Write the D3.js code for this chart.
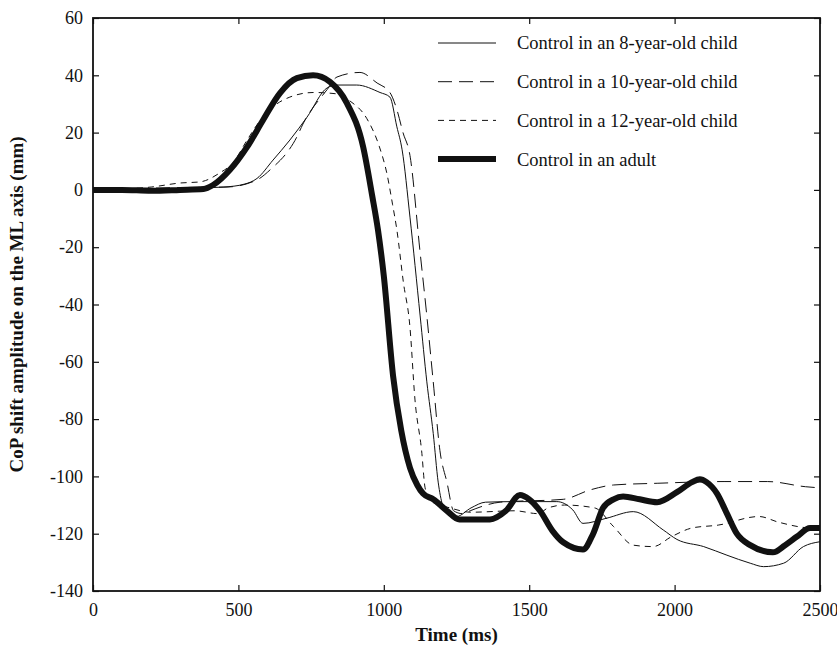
<!DOCTYPE html>
<html>
<head>
<meta charset="utf-8">
<script src="https://cdn.jsdelivr.net/npm/d3@7"></script>
<style>
  body { margin: 0; background: #fff; }
  svg text { font-family: "Liberation Serif", "Times New Roman", serif; fill: #111; }
</style>
</head>
<body>
<div id="chart"></div>
<script>
/* CONSTANTS */
const width = 837,
  height = 649,
  margin = { top: 18, right: 17, bottom: 58, left: 93 };

/* DATA */
const xTicks = [0, 500, 1000, 1500, 2000, 2500];
const yTicks = [60, 40, 20, 0, -20, -40, -60, -80, -100, -120, -140];

const seriesNames = [
  "Control in an 8-year-old child",
  "Control in a 10-year-old child",
  "Control in a 12-year-old child",
  "Control in an adult"
];

// 8-year-old child (thin solid)
const child8 = [
  [0, 0], [150, 0.3], [300, 0.5], [450, 1], [520, 2], [564, 4], [619, 10.4], [677, 17.4],
  [736, 25.4], [805, 35.6], [839, 36.6], [907, 36.6], [987, 34], [1021, 32.4], [1045, 22],
  [1063, 14], [1090, -9.5], [1125, -44], [1148, -67], [1170, -85], [1187, -102],
  [1217, -113], [1250, -114], [1300, -111], [1350, -109], [1450, -108.8], [1595, -108.8],
  [1650, -111.7], [1685, -116.4], [1766, -114.6], [1858, -112.3], [1961, -118.7],
  [2008, -122], [2100, -124.5], [2180, -127.5], [2260, -130.3], [2306, -131.5],
  [2375, -130.3], [2443, -124.5], [2500, -122.8]
];

// 10-year-old child (long dash)
const child10 = [
  [0, 0], [150, 0.5], [300, 0.8], [461, 1], [564, 3.5], [609, 7], [701, 18.5], [722, 23],
  [805, 35], [839, 39.4], [918, 41], [977, 37.3], [1021, 34], [1045, 28], [1066, 20],
  [1090, 12], [1124, -21], [1148, -44], [1170, -67], [1193, -91], [1217, -102],
  [1240, -112], [1270, -113], [1297, -112], [1331, -110.7], [1400, -109], [1617, -108],
  [1710, -104.7], [1790, -103], [1940, -102.4], [2170, -101.8], [2320, -101.8],
  [2450, -103.6], [2500, -104]
];

// 12-year-old child (short dash)
const child12 = [
  [0, 0], [200, 1], [299, 2.4], [368, 2.8], [437, 6], [481, 9.4], [530, 17.4], [573, 24],
  [619, 29], [677, 32.4], [758, 34], [840, 33.5], [884, 31], [941, 25], [985, 15],
  [1010, 6], [1030, -5], [1045, -14], [1067, -32], [1090, -48], [1107, -73], [1130, -91],
  [1142, -104], [1160, -108.5], [1228, -111], [1300, -112.5], [1450, -112], [1530, -113],
  [1565, -111], [1622, -110], [1725, -111], [1790, -117.5], [1858, -124], [1926, -124.5],
  [1990, -121], [2060, -118], [2150, -117], [2290, -114], [2358, -116], [2472, -118],
  [2500, -118]
];

// adult (thick solid)
const adult = [
  [0, 0], [100, 0], [200, -0.3], [299, 0], [380, 0.3], [413, 1.7], [471, 7], [530, 15],
  [585, 24.4], [643, 33.8], [701, 39], [757, 40], [815, 37.7], [873, 30.3], [929, 15],
  [960, -2], [980, -14], [1000, -30], [1032, -65], [1060, -84], [1090, -97], [1115, -103],
  [1135, -106], [1170, -108], [1217, -112], [1260, -115], [1365, -115], [1420, -112],
  [1468, -106.5], [1500, -108], [1537, -112], [1580, -119], [1617, -123], [1685, -125.5],
  [1720, -120], [1754, -111], [1790, -108], [1823, -107], [1880, -108], [1940, -109],
  [2008, -105.5], [2060, -102], [2087, -101], [2110, -102], [2146, -106], [2180, -113],
  [2214, -120], [2260, -124], [2338, -126.5], [2380, -124], [2421, -121], [2466, -118],
  [2500, -118]
];

const series = [
  { name: seriesNames[0], values: child8, width: 1, dash: null },
  { name: seriesNames[1], values: child10, width: 1, dash: "14,7" },
  { name: seriesNames[2], values: child12, width: 1, dash: "6,5" },
  { name: seriesNames[3], values: adult, width: 6, dash: null }
];

/* SCALES */
const xScale = d3.scaleLinear()
  .domain([0, 2500])
  .range([margin.left, width - margin.right]);

const yScale = d3.scaleLinear()
  .domain([-140, 60])
  .range([height - margin.bottom, margin.top]);

const svg = d3.select("#chart")
  .append("svg")
  .attr("width", width)
  .attr("height", height);

// clip so lines stay in the frame
svg.append("clipPath")
  .attr("id", "plot-clip")
  .append("rect")
  .attr("x", xScale(0))
  .attr("y", yScale(60))
  .attr("width", xScale(2500) - xScale(0))
  .attr("height", yScale(-140) - yScale(60));

/* AXES: ticks pointing inwards on all four sides */
const tickLen = 6;
const plain = d => String(d); // hyphen minus, no thousands comma

svg.append("g")
  .attr("class", "axis x-axis")
  .attr("transform", `translate(0,${yScale(-140)})`)
  .call(d3.axisBottom(xScale).tickValues(xTicks).tickSize(-tickLen).tickPadding(12).tickFormat(plain))
  .call(g => g.select(".domain").remove());

svg.append("g")
  .attr("class", "axis x-axis-top")
  .attr("transform", `translate(0,${yScale(60)})`)
  .call(d3.axisTop(xScale).tickValues(xTicks).tickSize(-tickLen).tickFormat(""))
  .call(g => g.select(".domain").remove());

svg.append("g")
  .attr("class", "axis y-axis")
  .attr("transform", `translate(${xScale(0)},0)`)
  .call(d3.axisLeft(yScale).tickValues(yTicks).tickSize(-tickLen).tickPadding(10).tickFormat(plain))
  .call(g => g.select(".domain").remove());

svg.append("g")
  .attr("class", "axis y-axis-right")
  .attr("transform", `translate(${xScale(2500)},0)`)
  .call(d3.axisRight(yScale).tickValues(yTicks).tickSize(-tickLen).tickFormat(""))
  .call(g => g.select(".domain").remove());

svg.selectAll(".axis").attr("font-family", "'Liberation Serif', serif");
svg.selectAll(".axis line").attr("stroke", "#111").attr("stroke-width", 1.2);
svg.selectAll(".axis text")
  .attr("font-size", 18)
  .attr("fill", "#111");

// frame
svg.append("rect")
  .attr("x", xScale(0))
  .attr("y", yScale(60))
  .attr("width", xScale(2500) - xScale(0))
  .attr("height", yScale(-140) - yScale(60))
  .attr("fill", "none")
  .attr("stroke", "#111")
  .attr("stroke-width", 1.8);

/* LINES */
const line = d3.line()
  .x(d => xScale(d[0]))
  .y(d => yScale(d[1]))
  .curve(d3.curveMonotoneX);

svg.append("g")
  .attr("clip-path", "url(#plot-clip)")
  .selectAll("path.series")
  .data(series)
  .join("path")
  .attr("class", "series")
  .attr("d", d => line(d.values))
  .attr("fill", "none")
  .attr("stroke", "#111")
  .attr("stroke-width", d => d.width)
  .attr("stroke-dasharray", d => d.dash)
  .attr("stroke-linejoin", "round");

/* LEGEND */
const legend = svg.append("g")
  .attr("class", "legend")
  .attr("transform", "translate(438,43)");

const rows = legend.selectAll("g")
  .data(series)
  .join("g")
  .attr("transform", (d, i) => `translate(0,${i * 38.7})`);

rows.append("line")
  .attr("x1", 0)
  .attr("x2", 58)
  .attr("stroke", "#111")
  .attr("stroke-width", d => d.width)
  .attr("stroke-dasharray", d => d.dash);

rows.append("text")
  .attr("x", 79)
  .attr("dy", "0.35em")
  .attr("font-size", 18.5)
  .text(d => d.name);

/* AXIS TITLES */
svg.append("text")
  .attr("x", (xScale(0) + xScale(2500)) / 2)
  .attr("y", 641)
  .attr("text-anchor", "middle")
  .attr("font-size", 19)
  .attr("font-weight", "bold")
  .text("Time (ms)");

svg.append("text")
  .attr("transform", `translate(23,${(yScale(60) + yScale(-140)) / 2}) rotate(-90)`)
  .attr("text-anchor", "middle")
  .attr("font-size", 19)
  .attr("font-weight", "bold")
  .text("CoP shift amplitude on the ML axis (mm)");
</script>
</body>
</html>
